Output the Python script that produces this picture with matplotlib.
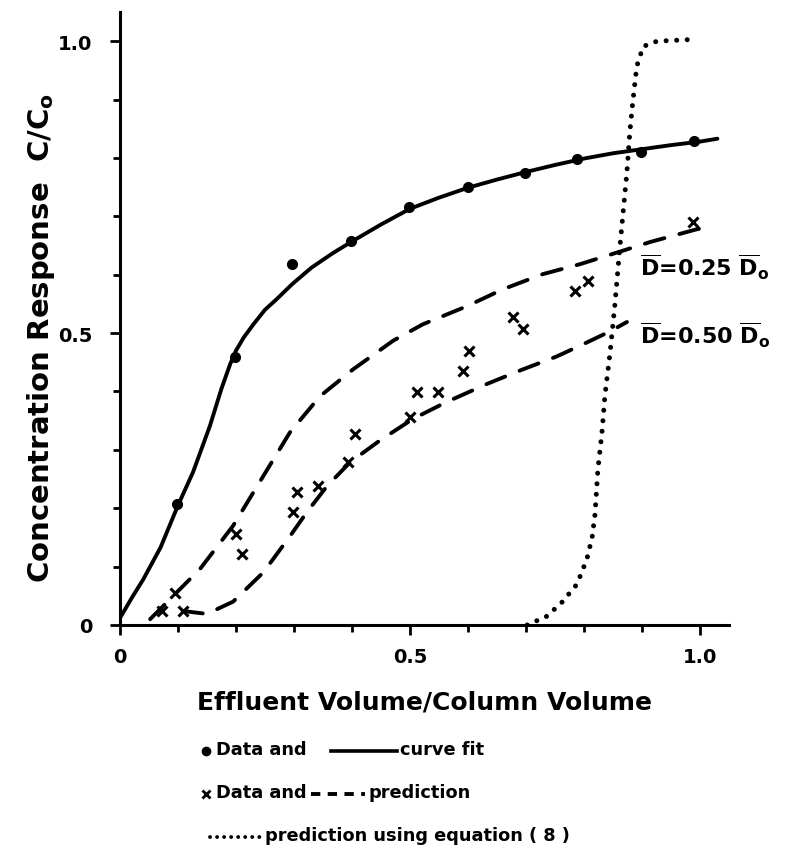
import matplotlib
matplotlib.use("Agg")
import matplotlib.pyplot as plt
from matplotlib.lines import Line2D

# data
fit_x = [0.0, 0.02, 0.04, 0.07, 0.1, 0.126, 0.155, 0.175, 0.19, 0.2, 0.213, 0.23, 0.25, 0.27, 0.297,
         0.33, 0.367, 0.4, 0.45, 0.5, 0.55, 0.6, 0.65, 0.7, 0.75, 0.8, 0.85, 0.9, 0.95, 1.0, 1.03]
fit_y = [0.012, 0.046, 0.078, 0.133, 0.205, 0.262, 0.341, 0.405, 0.447, 0.47, 0.492, 0.515, 0.54, 0.558, 0.584,
         0.612, 0.637, 0.657, 0.686, 0.713, 0.732, 0.749, 0.763, 0.776, 0.788, 0.799, 0.808, 0.815, 0.822, 0.828, 0.833]
dots_x = [0.098, 0.198, 0.297, 0.398, 0.498, 0.6, 0.698, 0.788, 0.898, 0.99]
dots_y = [0.207, 0.459, 0.618, 0.657, 0.716, 0.75, 0.774, 0.798, 0.81, 0.829]

pred25_x = [0.052, 0.138, 0.195, 0.247, 0.293, 0.345, 0.402, 0.471, 0.522, 0.598, 0.66, 0.729, 0.793, 0.857, 0.914, 0.995, 1.02]
pred25_y = [0.01, 0.096, 0.17, 0.255, 0.33, 0.392, 0.438, 0.487, 0.515, 0.546, 0.575, 0.601, 0.618, 0.638, 0.656, 0.678, 0.683]
pred50_x = [0.108, 0.15, 0.195, 0.247, 0.293, 0.322, 0.357, 0.397, 0.448, 0.505, 0.563, 0.633, 0.695, 0.753, 0.805, 0.845, 0.874]
pred50_y = [0.024, 0.019, 0.04, 0.09, 0.152, 0.193, 0.238, 0.279, 0.316, 0.353, 0.382, 0.413, 0.438, 0.46, 0.484, 0.503, 0.519]
cross_x = [0.072, 0.095, 0.108, 0.2, 0.21, 0.299, 0.306, 0.342, 0.393, 0.405, 0.5, 0.512, 0.548, 0.591, 0.602, 0.678, 0.695, 0.784, 0.807, 0.988]
cross_y = [0.024, 0.055, 0.024, 0.156, 0.121, 0.193, 0.228, 0.238, 0.279, 0.327, 0.356, 0.399, 0.399, 0.435, 0.469, 0.527, 0.507, 0.572, 0.589, 0.69]

eq8_x = [0.702, 0.736, 0.762, 0.788, 0.805, 0.814, 0.819, 0.824, 0.831, 0.836, 0.845, 0.853, 0.862, 0.874, 0.879, 0.884, 0.891, 0.902, 0.926, 0.988]
eq8_y = [0.0, 0.015, 0.039, 0.07, 0.113, 0.15, 0.19, 0.267, 0.33, 0.392, 0.467, 0.546, 0.649, 0.776, 0.844, 0.895, 0.957, 0.991, 1.0, 1.003]

W, H = 788, 853
fig = plt.figure(figsize=(W / 100, H / 100), dpi=100)
ax = fig.add_axes([120 / W, (H - 626) / H, 609 / W, 613 / H])

ax.plot(fit_x, fit_y, color="black", lw=2.8, solid_capstyle="round", solid_joinstyle="round")
ax.plot(dots_x, dots_y, "o", color="black", ms=7, ls="none")
for xs, ys in [(pred25_x, pred25_y), (pred50_x, pred50_y)]:
    ax.plot(xs, ys, color="black", lw=2.8, ls=(0, (5.2, 4.0)), dash_capstyle="round")
ax.plot(cross_x, cross_y, "x", color="black", ms=7, mew=2.2, ls="none")
ax.plot(eq8_x, eq8_y, color="black", lw=3.6, ls=(0, (0.01, 2.1)), dash_capstyle="round")

txt = dict(fontsize=16, fontweight="bold", color="black")
ax.text(0.897, 0.598, r"$\overline{\mathbf{D}}$=0.25 $\overline{\mathbf{D}}_{\mathbf{o}}$", **txt)
ax.text(0.897, 0.483, r"$\overline{\mathbf{D}}$=0.50 $\overline{\mathbf{D}}_{\mathbf{o}}$", **txt)

ax.set_xlim(0, 1.05)
ax.set_ylim(0, 1.05)
for side in ["top", "right"]:
    ax.spines[side].set_visible(False)
for side in ["left", "bottom"]:
    ax.spines[side].set_linewidth(2.2)

ax.set_xticks([0, 0.5, 1.0])
ax.set_xticklabels(["0", "0.5", "1.0"])
ax.set_xticks([0.1, 0.2, 0.3, 0.4, 0.6, 0.7, 0.8, 0.9], minor=True)
ax.set_yticks([0, 0.5, 1.0])
ax.set_yticklabels(["0", "0.5", "1.0"])
ax.set_yticks([0.1, 0.2, 0.3, 0.4, 0.6, 0.7, 0.8, 0.9], minor=True)
ax.tick_params(axis="both", which="major", length=7, width=2, labelsize=14, pad=13)
ax.tick_params(axis="both", which="minor", length=5, width=2)
ax.tick_params(axis="x", which="major", pad=9)
for lab in ax.get_xticklabels() + ax.get_yticklabels():
    lab.set_fontweight("bold")

ax.set_xlabel("Effluent Volume/Column Volume", fontsize=18, fontweight="bold", labelpad=17)
ax.set_ylabel(r"Concentration Response  C/C$_{\mathbf{o}}$", fontsize=21, fontweight="bold")
ax.yaxis.set_label_coords(-0.104, 0.47)

# hand-drawn legend below the axes
def fx(px):
    return px / W

def fy(py):
    return 1 - py / H

leg = dict(fontsize=12.8, fontweight="bold", va="center", ha="left")
fig.add_artist(Line2D([fx(206)], [fy(752)], marker="o", color="black", ms=6))
fig.text(fx(216), fy(750), "Data and", **leg)
fig.add_artist(Line2D([fx(331), fx(397)], [fy(752), fy(752)], color="black", lw=2.6))
fig.text(fx(400), fy(750), "curve fit", **leg)

fig.add_artist(Line2D([fx(206)], [fy(795)], marker="x", color="black", ms=6, mew=2))
fig.text(fx(216), fy(793), "Data and", **leg)
fig.add_artist(Line2D([fx(311), fx(365)], [fy(795), fy(795)], color="black", lw=2.8, ls=(0, (2.4, 1.9))))
fig.text(fx(368), fy(793), "prediction", **leg)

fig.add_artist(Line2D([fx(210), fx(262)], [fy(838), fy(838)], color="black", lw=2.8, ls=(0, (0.01, 1.8)), dash_capstyle="round"))
fig.text(fx(265), fy(836), "prediction using equation ( 8 )", **leg)

fig.savefig("out.png", dpi=100)
